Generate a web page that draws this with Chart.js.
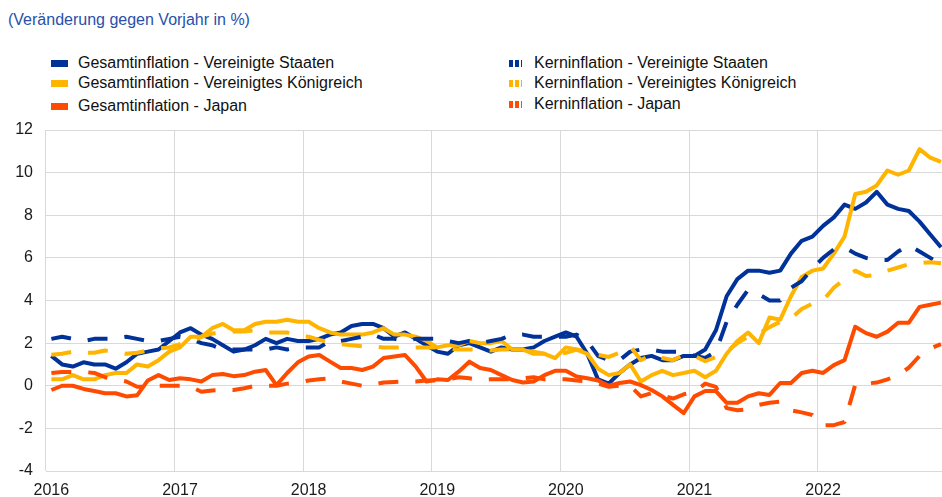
<!DOCTYPE html>
<html lang="de">
<head>
<meta charset="utf-8">
<title>Gesamt- und Kerninflation</title>
<script src="https://cdn.jsdelivr.net/npm/chart.js@4.4.1/dist/chart.umd.min.js"></script>
<style>
  html, body { margin: 0; padding: 0; background: #fff; }
  body {
    width: 942px; height: 497px; overflow: hidden; position: relative;
    font-family: 'Liberation Sans', Arial, sans-serif;
  }
  #chartBox { position: absolute; left: 0; top: 0; width: 951px; height: 497px; }
  .title {
    position: absolute; left: 8px; top: 10px;
    font-size: 16px; line-height: 20px; color: #2850aa; white-space: nowrap;
  }
  .leg {
    position: absolute; font-size: 16px; line-height: 18px; color: #111; white-space: nowrap;
  }
  .mark { position: absolute; height: 7px; }
</style>
</head>
<body>
<div class="title">(Veränderung gegen Vorjahr in %)</div>
<div id="legend"></div>
<div id="chartBox"><canvas id="inflChart" width="951" height="497"></canvas></div>

<script>
  // --- Data (monthly, Jan 2016 - Dec 2022, % yoy) ---
  const years = ['2016', '2017', '2018', '2019', '2020', '2021', '2022'];
  const monthNums = ['01', '02', '03', '04', '05', '06', '07', '08', '09', '10', '11', '12'];

  const usHeadline = [
    1.4, 1.0, 0.9, 1.1, 1.0, 1.0, 0.8, 1.1, 1.5, 1.6, 1.7, 2.1,
    2.5, 2.7, 2.4, 2.2, 1.9, 1.6, 1.7, 1.9, 2.2, 2.0, 2.2, 2.1,
    2.1, 2.2, 2.4, 2.5, 2.8, 2.9, 2.9, 2.7, 2.3, 2.5, 2.2, 1.9,
    1.6, 1.5, 1.9, 2.0, 1.8, 1.6, 1.8, 1.7, 1.7, 1.8, 2.1, 2.3,
    2.5, 2.3, 1.5, 0.3, 0.1, 0.6, 1.0, 1.3, 1.4, 1.2, 1.2, 1.4,
    1.4, 1.7, 2.6, 4.2, 5.0, 5.4, 5.4, 5.3, 5.4, 6.2, 6.8, 7.0,
    7.5, 7.9, 8.5, 8.3, 8.6, 9.1, 8.5, 8.3, 8.2, 7.7, 7.1, 6.5
  ];
  const ukHeadline = [
    0.3, 0.3, 0.5, 0.3, 0.3, 0.5, 0.6, 0.6, 1.0, 0.9, 1.2, 1.6,
    1.8, 2.3, 2.3, 2.7, 2.9, 2.6, 2.6, 2.9, 3.0, 3.0, 3.1, 3.0,
    3.0, 2.7, 2.5, 2.4, 2.4, 2.4, 2.5, 2.7, 2.4, 2.4, 2.3, 2.1,
    1.8, 1.9, 1.9, 2.1, 2.0, 2.0, 2.1, 1.7, 1.7, 1.5, 1.5, 1.3,
    1.8, 1.7, 1.5, 0.8, 0.5, 0.6, 1.0, 0.2, 0.5, 0.7, 0.5, 0.6,
    0.7, 0.4, 0.7, 1.5, 2.1, 2.5, 2.0, 3.2, 3.1, 4.2, 5.1, 5.4,
    5.5, 6.2, 7.0, 9.0, 9.1, 9.4, 10.1, 9.9, 10.1, 11.1, 10.7, 10.5
  ];
  const jpHeadline = [
    -0.2, 0.0, 0.0, -0.15, -0.25, -0.35, -0.35, -0.5, -0.45, 0.25, 0.5, 0.27,
    0.35, 0.3, 0.2, 0.5, 0.55, 0.45, 0.5, 0.66, 0.74, 0.03, 0.6, 1.1,
    1.37, 1.44, 1.13, 0.83, 0.83, 0.74, 0.9, 1.3, 1.37, 1.44, 0.9, 0.2,
    0.3, 0.27, 0.66, 1.13, 0.83, 0.74, 0.5, 0.27, 0.15, 0.2, 0.5, 0.7,
    0.7, 0.43, 0.35, 0.25, 0.0, 0.13, 0.2, 0.03, -0.2, -0.5, -0.9, -1.28,
    -0.5, -0.25, -0.25, -0.8, -0.8, -0.5, -0.35, -0.43, 0.13, 0.13, 0.6, 0.7,
    0.6, 0.97, 1.2, 2.77, 2.47, 2.3, 2.54, 2.96, 2.96, 3.7, 3.8, 3.9
  ];
  const usCore = [
    2.2, 2.3, 2.2, 2.1, 2.2, 2.2, 2.2, 2.3, 2.2, 2.1, 2.1, 2.2,
    2.3, 2.2, 2.0, 1.9, 1.7, 1.7, 1.7, 1.7, 1.7, 1.8, 1.7, 1.8,
    1.8, 1.8, 2.1, 2.1, 2.2, 2.3, 2.4, 2.2, 2.2, 2.1, 2.2, 2.2,
    2.2, 2.1, 2.0, 2.1, 2.0, 2.1, 2.2, 2.4, 2.4, 2.3, 2.3, 2.3,
    2.3, 2.4, 2.1, 1.4, 1.2, 1.2, 1.6, 1.7, 1.7, 1.6, 1.6, 1.6,
    1.4, 1.3, 1.6, 3.0, 3.8, 4.5, 4.3, 4.0, 4.0, 4.6, 4.9, 5.5,
    6.0, 6.4, 6.5, 6.2, 6.0, 5.9, 5.9, 6.3, 6.6, 6.3, 6.0, 5.7
  ];
  const ukCore = [
    1.45, 1.5, 1.6, 1.55, 1.55, 1.65, 1.6, 1.5, 1.55, 1.65, 1.75, 1.8,
    1.95, 2.05, 2.3, 2.45, 2.5, 2.55, 2.55, 2.6, 2.5, 2.5, 2.5, 2.35,
    2.3, 2.15, 2.05, 1.95, 1.9, 1.85, 1.85, 1.8, 1.8, 1.8, 1.8, 1.8,
    1.8, 1.75, 1.7, 1.7, 1.7, 1.65, 1.7, 1.7, 1.65, 1.6, 1.5, 1.45,
    1.55, 1.7, 1.6, 1.45, 1.35, 1.55, 1.85, 1.2, 1.45, 1.3, 1.2, 1.45,
    1.4, 1.15, 1.35, 1.6, 2.0, 2.3, 2.45, 2.75, 3.0, 3.15, 3.6, 3.85,
    4.0, 4.6, 5.0, 5.4, 5.15, 5.2, 5.4, 5.55, 5.7, 5.75, 5.8, 5.75
  ];
  const jpCore = [
    0.6, 0.65, 0.65, 0.65, 0.6, 0.4, 0.3, 0.2, -0.05, -0.05, 0.0, 0.0,
    0.0, -0.05, -0.28, -0.22, -0.2, -0.2, -0.12, 0.0, 0.0, 0.0, 0.1, 0.15,
    0.25, 0.3, 0.35, 0.2, 0.1, 0.0, 0.05, 0.15, 0.18, 0.2, 0.2, 0.25,
    0.25, 0.3, 0.4, 0.35, 0.27, 0.3, 0.3, 0.3, 0.35, 0.4, 0.3, 0.3,
    0.3, 0.25, 0.2, 0.1, -0.05, 0.0, 0.0, -0.5, -0.35, -0.45, -0.6, -0.4,
    -0.3, 0.1, -0.05, -1.05, -1.15, -1.1, -0.9, -0.8, -0.75, -1.15, -1.25, -1.37,
    -1.85, -1.85, -1.7, 0.05, 0.1, 0.15, 0.3, 0.5, 0.85, 1.4, 1.75, 1.95
  ];

  const yMin = -4;
  const yMax = 12;
  const yStep = 2;

  // --- Styles ---
  const BLUE = '#003299';
  const YELLOW = '#ffb400';
  const ORANGE = '#ff4b00';
  const GRID = '#d9d9d9';
  const TICK = '#1a1a1a';
  const DASH = [20, 17];

  const months = [];
  years.forEach(function (y) {
    monthNums.forEach(function (m) { months.push(y + '-' + m); });
  });

  const series = [
    { label: 'Gesamtinflation - Vereinigte Staaten', data: usHeadline, color: BLUE, dashed: false, order: 6 },
    { label: 'Gesamtinflation - Vereinigtes Königreich', data: ukHeadline, color: YELLOW, dashed: false, order: 5 },
    { label: 'Gesamtinflation - Japan', data: jpHeadline, color: ORANGE, dashed: false, order: 4 },
    { label: 'Kerninflation - Vereinigte Staaten', data: usCore, color: BLUE, dashed: true, order: 3 },
    { label: 'Kerninflation - Vereinigtes Königreich', data: ukCore, color: YELLOW, dashed: true, order: 2 },
    { label: 'Kerninflation - Japan', data: jpCore, color: ORANGE, dashed: true, order: 1 }
  ];

  // --- HTML legend (two columns) ---
  const legend = document.getElementById('legend');
  const rowTops = [[54, 74, 97], [54, 74, 95]];
  series.forEach(function (s, i) {
    const col = s.dashed ? 1 : 0;
    const top = rowTops[col][i % 3];
    const mark = document.createElement('div');
    mark.className = 'mark';
    mark.style.top = (top + 6) + 'px';
    if (col === 0) {
      mark.style.left = '51px';
      mark.style.width = '17px';
      mark.style.background = s.color;
    } else {
      mark.style.left = '509px';
      mark.style.width = '13px';
      mark.style.background = 'repeating-linear-gradient(to right, ' + s.color +
        ' 0 4px, transparent 4px 6px)';
    }
    legend.appendChild(mark);
    const txt = document.createElement('div');
    txt.className = 'leg';
    txt.textContent = s.label;
    txt.style.top = top + 'px';
    txt.style.left = (col === 0 ? 78 : 534) + 'px';
    legend.appendChild(txt);
  });

  // --- Chart ---
  Chart.defaults.font.family = "'Liberation Sans', Arial, sans-serif";
  Chart.defaults.font.size = 16;
  Chart.defaults.color = TICK;

  new Chart(document.getElementById('inflChart'), {
    type: 'line',
    data: {
      labels: months,
      datasets: series.map(function (s) {
        return {
          label: s.label,
          data: s.data,
          borderColor: s.color,
          backgroundColor: s.color,
          borderWidth: 4,
          borderDash: s.dashed ? DASH : [],
          borderJoinStyle: 'round',
          pointRadius: 0,
          tension: 0,
          fill: false,
          order: s.order
        };
      })
    },
    options: {
      responsive: false,
      animation: false,
      devicePixelRatio: 1,
      layout: { padding: { top: 130, left: 0, right: 0, bottom: 0 } },
      plugins: {
        legend: { display: false },
        tooltip: { enabled: false }
      },
      scales: {
        x: {
          type: 'category',
          offset: true,
          border: { display: false },
          grid: {
            offset: true,
            drawTicks: false,
            lineWidth: 1,
            color: function (c) {
              return (c.index !== undefined && c.index % 12 === 0) ? GRID : 'rgba(0,0,0,0)';
            }
          },
          ticks: {
            autoSkip: false,
            maxRotation: 0,
            minRotation: 0,
            padding: 10,
            color: TICK,
            callback: function (v, i) {
              return i % 12 === 0 ? months[i].slice(0, 4) : '';
            }
          },
          afterFit: function (scale) { scale.height = 26; }
        },
        y: {
          min: yMin,
          max: yMax,
          border: { display: false },
          grid: { color: GRID, lineWidth: 1, drawTicks: false },
          ticks: { stepSize: yStep, padding: 13, color: TICK },
          afterFit: function (scale) { scale.width = 46; }
        }
      }
    }
  });
</script>
</body>
</html>
